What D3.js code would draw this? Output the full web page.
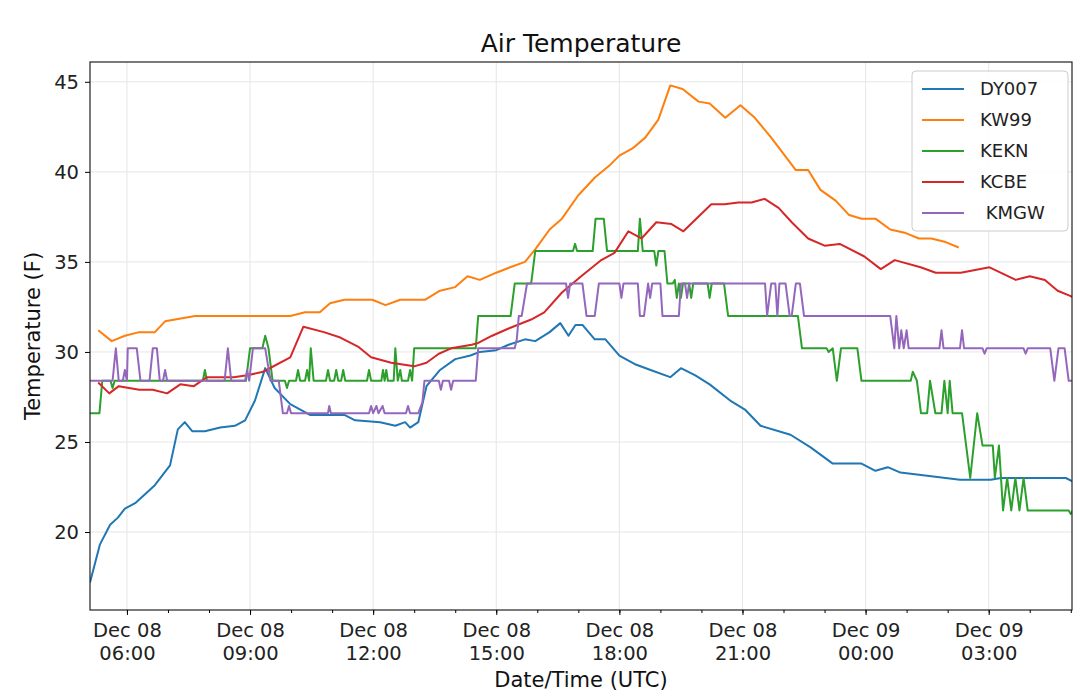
<!DOCTYPE html>
<html><head><meta charset="utf-8">
<script src="https://cdn.jsdelivr.net/npm/d3@7"></script>
<style>
body{margin:0;background:#fff;font-family:"DejaVu Sans",sans-serif;}
svg text{font-family:"DejaVu Sans",sans-serif;}
.grid line{stroke:#e6e6e6;}
</style></head><body>
<svg id="chart" width="1080" height="697"></svg>
<script>
// hours since Dec 08 00:00 UTC, temperature (F)
const seriesNames = ['DY007', 'KW99', 'KEKN', 'KCBE', ' KMGW'];
const colors = ['#1f77b4', '#ff7f0e', '#2ca02c', '#d62728', '#9467bd'];
const yTicks = [20, 25, 30, 35, 40, 45];

const dy007 = [[5.1,17.2],[5.34,19.3],[5.59,20.4],[5.78,20.8],[5.95,21.3],[6.2,21.6],[6.68,22.6],[7.05,23.7],[7.24,25.7],[7.41,26.1],[7.59,25.6],[7.9,25.6],[8.27,25.8],[8.63,25.9],[8.88,26.2],[9.12,27.3],[9.37,29.1],[9.6,28.0],[9.98,27.1],[10.46,26.5],[11.3,26.5],[11.56,26.2],[12.17,26.1],[12.54,25.9],[12.78,26.1],[12.9,25.8],[13.1,26.1],[13.3,28.1],[13.63,29.0],[14.0,29.6],[14.37,29.8],[14.6,30.0],[15.0,30.1],[15.3,30.4],[15.7,30.7],[15.95,30.6],[16.3,31.1],[16.56,31.6],[16.76,30.9],[16.93,31.5],[17.1,31.5],[17.4,30.7],[17.66,30.7],[18.0,29.8],[18.4,29.3],[18.76,29.0],[19.24,28.6],[19.5,29.1],[19.85,28.7],[20.2,28.2],[20.7,27.3],[21.06,26.8],[21.44,25.9],[22.17,25.4],[22.66,24.7],[23.2,23.8],[23.9,23.8],[24.24,23.4],[24.54,23.6],[24.85,23.3],[25.6,23.1],[26.3,22.9],[27.05,22.9],[27.3,23.0],[28.88,23.0],[29.05,22.8]];

const kw99 = [[5.3,31.2],[5.63,30.6],[5.95,30.9],[6.3,31.1],[6.68,31.1],[6.93,31.7],[7.66,32.0],[9.0,32.0],[9.98,32.0],[10.34,32.2],[10.7,32.2],[10.95,32.7],[11.3,32.9],[11.98,32.9],[12.3,32.6],[12.66,32.9],[13.27,32.9],[13.63,33.4],[14.0,33.6],[14.3,34.2],[14.6,34.0],[15.0,34.4],[15.34,34.7],[15.7,35.0],[15.95,35.7],[16.3,36.8],[16.6,37.4],[17.0,38.7],[17.41,39.7],[17.78,40.4],[18.0,40.9],[18.32,41.3],[18.63,41.9],[18.95,42.9],[19.24,44.8],[19.54,44.6],[19.93,43.9],[20.2,43.8],[20.58,43.0],[20.95,43.7],[21.3,43.0],[21.7,41.9],[22.3,40.1],[22.6,40.1],[22.9,39.0],[23.27,38.4],[23.6,37.6],[23.9,37.4],[24.24,37.4],[24.6,36.8],[24.98,36.6],[25.3,36.3],[25.6,36.3],[25.95,36.1],[26.27,35.8]];

const kekn = [[5.1,26.6],[5.33,26.6],[5.4,28.4],[5.6,28.4],[5.65,28.0],[5.7,28.4],[7.85,28.4],[7.9,29.0],[7.95,28.4],[8.9,28.4],[9.0,30.2],[9.3,30.2],[9.37,30.9],[9.45,30.2],[9.55,28.4],[9.85,28.4],[9.9,28.0],[9.95,28.4],[10.12,28.4],[10.17,29.0],[10.22,28.4],[10.34,28.4],[10.39,29.0],[10.44,28.4],[10.48,30.2],[10.55,28.4],[10.85,28.4],[10.9,29.0],[10.95,28.4],[11.05,28.4],[11.1,29.0],[11.15,28.4],[11.22,28.4],[11.27,29.0],[11.32,28.4],[11.85,28.4],[11.9,29.0],[11.95,28.4],[12.2,28.4],[12.24,29.0],[12.28,28.4],[12.32,29.0],[12.36,28.4],[12.5,28.4],[12.54,30.2],[12.6,28.4],[12.66,29.0],[12.7,28.4],[12.85,28.4],[12.9,29.0],[12.95,28.4],[13.0,30.2],[14.5,30.2],[14.56,32.0],[15.35,32.0],[15.45,33.8],[15.85,33.8],[15.95,35.6],[16.87,35.6],[16.92,36.0],[16.97,35.6],[17.35,35.6],[17.42,37.4],[17.62,37.4],[17.7,35.6],[18.45,35.6],[18.5,37.4],[18.57,35.6],[18.85,35.6],[18.9,34.8],[18.95,35.6],[19.1,35.6],[19.17,33.8],[19.3,33.8],[19.35,34.0],[19.4,33.0],[19.45,33.8],[19.5,33.0],[19.55,33.8],[19.7,33.8],[19.75,33.0],[19.8,33.8],[20.15,33.8],[20.2,33.0],[20.25,33.8],[20.55,33.8],[20.65,32.0],[22.35,32.0],[22.45,30.2],[23.05,30.2],[23.1,30.0],[23.2,30.2],[23.3,28.4],[23.4,30.2],[23.8,30.2],[23.9,28.4],[25.1,28.4],[25.15,28.9],[25.25,28.4],[25.35,26.6],[25.5,26.6],[25.57,28.4],[25.7,26.6],[25.85,26.6],[25.92,28.4],[26.0,26.6],[26.05,28.4],[26.12,26.6],[26.35,26.6],[26.55,23.0],[26.72,26.6],[26.85,24.8],[27.1,24.8],[27.15,23.0],[27.25,24.8],[27.35,21.2],[27.45,23.0],[27.55,21.2],[27.65,23.0],[27.75,21.2],[27.85,23.0],[27.95,21.2],[28.95,21.2],[29.0,21.0],[29.05,21.2]];

const kcbe = [[5.3,28.3],[5.57,27.7],[5.8,28.1],[6.3,27.9],[6.63,27.9],[6.98,27.7],[7.3,28.2],[7.63,28.1],[7.95,28.6],[8.6,28.6],[8.93,28.7],[9.32,28.9],[9.98,29.7],[10.3,31.4],[10.8,31.1],[11.2,30.8],[11.63,30.3],[11.95,29.7],[12.44,29.4],[13.0,29.2],[13.3,29.4],[13.6,29.9],[13.9,30.2],[14.4,30.4],[14.56,30.5],[14.9,30.9],[15.3,31.3],[15.85,31.8],[16.17,32.2],[16.6,33.3],[17.07,34.2],[17.56,35.1],[17.88,35.5],[18.22,36.7],[18.54,36.3],[18.9,37.2],[19.27,37.1],[19.56,36.7],[20.24,38.2],[20.56,38.2],[20.9,38.3],[21.22,38.3],[21.54,38.5],[21.88,38.0],[22.2,37.2],[22.6,36.3],[23.0,35.9],[23.37,36.0],[23.97,35.3],[24.37,34.6],[24.71,35.1],[25.34,34.7],[25.71,34.4],[26.32,34.4],[27.02,34.7],[27.66,34.0],[28.0,34.2],[28.37,34.0],[28.68,33.4],[29.0,33.1],[29.34,32.6]];

const kmgw = [[5.1,28.4],[5.65,28.4],[5.73,30.2],[5.8,28.4],[5.9,28.4],[5.95,29.0],[6.0,28.4],[6.02,30.2],[6.24,30.2],[6.33,28.4],[6.55,28.4],[6.63,30.2],[6.73,30.2],[6.8,28.4],[6.88,28.4],[6.93,29.0],[6.98,28.4],[8.38,28.4],[8.46,30.2],[8.54,28.4],[8.88,28.4],[8.93,29.0],[8.98,28.4],[9.07,30.2],[9.37,30.2],[9.5,28.4],[9.7,28.4],[9.8,26.6],[9.9,26.6],[9.95,27.0],[10.0,26.6],[10.9,26.6],[10.93,27.0],[10.97,26.6],[11.9,26.6],[11.95,27.0],[12.0,26.6],[12.08,27.0],[12.13,26.6],[12.23,27.0],[12.28,26.6],[12.8,26.6],[12.85,27.0],[12.9,26.6],[13.1,26.6],[13.2,27.2],[13.25,28.4],[13.6,28.4],[13.65,27.9],[13.7,28.4],[13.85,28.4],[13.9,27.9],[13.95,28.4],[14.5,28.4],[14.56,30.2],[15.45,30.2],[15.5,30.7],[15.55,32.0],[15.62,32.0],[15.75,33.8],[16.7,33.8],[16.75,33.0],[16.8,33.8],[17.1,33.8],[17.2,32.0],[17.4,32.0],[17.5,33.8],[18.0,33.8],[18.05,33.0],[18.1,33.8],[18.45,33.8],[18.5,32.0],[18.6,32.0],[18.7,33.8],[18.75,33.0],[18.8,33.8],[19.0,33.8],[19.05,32.0],[19.45,32.0],[19.5,33.8],[19.6,33.8],[19.65,33.0],[19.7,33.8],[21.55,33.8],[21.6,32.0],[21.7,33.8],[21.8,33.8],[21.85,32.0],[21.9,33.8],[22.05,33.8],[22.15,32.0],[22.2,32.0],[22.3,33.8],[22.4,33.8],[22.5,32.0],[24.6,32.0],[24.7,30.2],[24.75,32.0],[24.82,30.2],[24.87,31.2],[24.93,30.2],[25.0,31.2],[25.05,30.2],[25.8,30.2],[25.85,31.2],[25.9,30.2],[26.3,30.2],[26.35,31.2],[26.4,30.2],[26.85,30.2],[26.9,29.9],[26.95,30.2],[27.85,30.2],[27.9,29.9],[27.95,30.2],[28.5,30.2],[28.6,28.4],[28.7,30.2],[28.85,30.2],[28.95,28.4],[29.05,28.4]];

const allSeries = [dy007, kw99, kekn, kcbe, kmgw];

const svg = d3.select('#chart');
const m = {l: 90, r: 8, t: 62, b: 87};
const W = 1080, H = 697;
const base = Date.UTC(2020, 11, 8);
const toDate = h => new Date(base + h * 3600e3);

const x = d3.scaleUtc().domain([toDate(5.1), toDate(29.03)]).range([m.l, W - m.r]);
const y = d3.scaleLinear().domain([15.67, 46.1]).range([H - m.b, m.t]);

const majors = d3.range(6, 29, 3).map(toDate);
const minors = d3.range(6, 30, 1).map(toDate).filter(d => x(d) <= W - m.r);

// grid
const grid = svg.append('g').attr('class', 'grid');
grid.selectAll('.vx').data(majors).join('line')
  .attr('x1', d => x(d)).attr('x2', d => x(d)).attr('y1', m.t).attr('y2', H - m.b);
grid.selectAll('.hy').data(yTicks).join('line')
  .attr('x1', m.l).attr('x2', W - m.r).attr('y1', d => y(d)).attr('y2', d => y(d));

// lines
const line = d3.line().x(d => x(toDate(d[0]))).y(d => y(d[1]));
svg.append('defs').append('clipPath').attr('id', 'clip')
  .append('rect').attr('x', m.l).attr('y', m.t).attr('width', W - m.l - m.r).attr('height', H - m.t - m.b);
svg.append('g').attr('clip-path', 'url(#clip)')
  .selectAll('path').data(allSeries).join('path')
  .attr('d', line).attr('fill', 'none')
  .attr('stroke', (d, i) => colors[i]).attr('stroke-width', 2).attr('stroke-linejoin', 'round');

// frame
svg.append('rect').attr('x', m.l).attr('y', m.t).attr('width', W - m.l - m.r).attr('height', H - m.t - m.b)
  .attr('fill', 'none').attr('stroke', '#222').attr('stroke-width', 1.2);

// axes
const fmt = d3.utcFormat('%b %d');
const fmtH = d3.utcFormat('%H:%M');
const xAxis = svg.append('g').attr('transform', `translate(0,${H - m.b})`)
  .call(d3.axisBottom(x).tickValues(majors).tickSize(5).tickFormat(''));
xAxis.select('.domain').remove();
xAxis.selectAll('.tick').each(function(d) {
  const t = d3.select(this).append('text').attr('fill', '#222').attr('text-anchor', 'middle')
    .attr('font-size', 19.5).attr('font-family', 'DejaVu Sans');
  t.append('tspan').attr('x', 0).attr('y', 27).text(fmt(d));
  t.append('tspan').attr('x', 0).attr('y', 50).text(fmtH(d));
});
svg.append('g').attr('transform', `translate(0,${H - m.b})`)
  .call(d3.axisBottom(x).tickValues(minors).tickSize(3).tickFormat(''))
  .select('.domain').remove();

const yAxis = svg.append('g').attr('transform', `translate(${m.l},0)`)
  .call(d3.axisLeft(y).tickValues(yTicks).tickSize(5).tickPadding(6));
yAxis.select('.domain').remove();
yAxis.selectAll('text').attr('font-size', 19.5).attr('fill', '#222').attr('font-family', 'DejaVu Sans');

svg.append('text').attr('x', (m.l + W - m.r) / 2).attr('y', 52).attr('text-anchor', 'middle')
  .attr('font-size', 25).attr('fill', '#111').text('Air Temperature');
svg.append('text').attr('x', (m.l + W - m.r) / 2).attr('y', 687).attr('text-anchor', 'middle')
  .attr('font-size', 21).attr('fill', '#111').text('Date/Time (UTC)');
svg.append('text').attr('transform', `translate(40,${(m.t + H - m.b) / 2}) rotate(-90)`)
  .attr('text-anchor', 'middle').attr('font-size', 21).attr('fill', '#111').text('Temperature (F)');

// legend
const lg = svg.append('g').attr('transform', 'translate(912,71)');
lg.append('rect').attr('width', 156).attr('height', 160).attr('rx', 4)
  .attr('fill', '#fff').attr('fill-opacity', 0.85).attr('stroke', '#ccc');
seriesNames.forEach((n, i) => {
  const yy = 18 + i * 31;
  lg.append('line').attr('x1', 10).attr('x2', 52).attr('y1', yy).attr('y2', yy)
    .attr('stroke', colors[i]).attr('stroke-width', 2);
  lg.append('text').attr('x', 68).attr('y', yy + 6).attr('font-size', 18).attr('fill', '#222')
    .attr('xml:space', 'preserve').style('white-space', 'pre').text(n);
});
</script></body></html>
